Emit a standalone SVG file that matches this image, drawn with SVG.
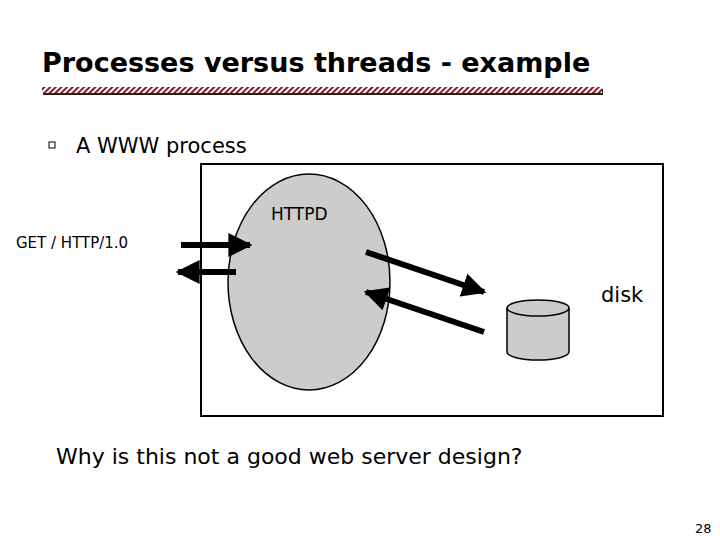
<svg xmlns="http://www.w3.org/2000/svg" width="720" height="540" viewBox="0 0 720 540">
<style>
.t{font-family:"DejaVu Sans",sans-serif;fill:#000}
.a{stroke:#000;stroke-width:6;fill:none}
.g{fill:#ccc;stroke:#000;stroke-width:1.5}
</style>
<defs>
<pattern id="h" width="4" height="4" patternUnits="userSpaceOnUse" patternTransform="rotate(45)">
<rect width="4" height="4" fill="#fff"/><rect width="2" height="4" fill="#8b1a1a"/>
</pattern>
<marker id="m" viewBox="0 0 10 10" refX="9" refY="5" markerWidth="4" markerHeight="4" orient="auto" markerUnits="strokeWidth">
<path d="M0,0 L10,5 L0,10 Z" fill="#000"/>
</marker>
</defs>
<rect width="720" height="540" fill="#fff"/>
<text class="t" x="42" y="72" font-size="27" font-weight="bold">Processes versus threads - example</text>
<rect x="43" y="89" width="560" height="6" fill="#222"/>
<rect x="42" y="87" width="560" height="6" fill="url(#h)"/>
<rect x="49" y="142" width="6" height="6" fill="none" stroke="#000"/>
<text class="t" x="76" y="153" font-size="21">A WWW process</text>
<rect id="box" x="201" y="164" width="462" height="252" fill="none" stroke="#000" stroke-width="2"/>
<g id="httpd"><ellipse class="g" cx="309" cy="282" rx="81" ry="108"/>
<text class="t" x="271" y="220" font-size="17">HTTPD</text></g>
<g id="disk"><path class="g" d="M507,308 V352 A31,8 0 0 0 569,352 V308"/>
<ellipse class="g" cx="538" cy="308" rx="31" ry="8"/>
<text class="t" x="601" y="302" font-size="21">disk</text></g>
<text class="t" x="16" y="248" font-size="15">GET / HTTP/1.0</text>
<g id="connectors">
<line class="a" x1="181" y1="245" x2="250" y2="245" marker-end="url(#m)"/>
<line class="a" x1="236" y1="272" x2="178" y2="272" marker-end="url(#m)"/>
<line class="a" x1="366" y1="252" x2="484" y2="292" marker-end="url(#m)"/>
<line class="a" x1="484" y1="332" x2="366" y2="292" marker-end="url(#m)"/>
</g>
<text class="t" x="56" y="464" font-size="22">Why is this not a good web server design?</text>
<text class="t" x="695" y="533" font-size="13">28</text>
</svg>
